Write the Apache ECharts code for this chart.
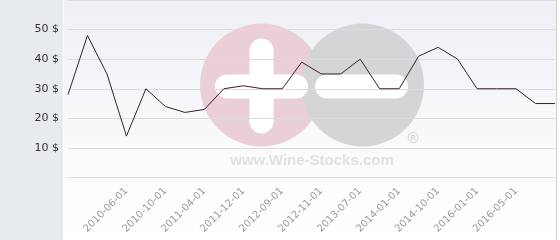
<!DOCTYPE html>
<html><head><meta charset="utf-8">
<script src="https://cdn.jsdelivr.net/npm/echarts@6/dist/echarts.min.js"></script>
<style>html,body{margin:0;padding:0;background:#fff}#c{width:560px;height:240px}</style>
</head><body><div id="c"></div>
<script>
var categories = ['', '', '', '2010-06-01', '', '2010-10-01', '', '2011-04-01', '', '2011-12-01', '', '2012-09-01', '', '2012-11-01', '', '2013-07-01', '', '2014-01-01', '', '2014-10-01', '', '2016-01-01', '', '2016-05-01', '', ''];
var prices = [28, 48, 35, 14, 30, 24, 22, 23, 30, 31, 30, 30, 39, 35, 35, 40, 30, 30, 41, 44, 40, 30, 30, 30, 25, 25];
var yTicks = [10, 20, 30, 40, 50];

var chart = echarts.init(document.getElementById('c'), null, {renderer: 'canvas'});
chart.setOption({
  animation: false,
  graphic: [
    {type: 'rect', z: -100, shape: {x: 0, y: 0, width: 63, height: 240}, style: {fill: '#e7ebee'}},
    {type: 'rect', z: -100, shape: {x: 64, y: 0, width: 492, height: 240},
      style: {fill: new echarts.graphic.LinearGradient(0, 0, 0, 1, [{offset: 0, color: '#eef0f5'}, {offset: 0.8, color: '#fdfdfe'}, {offset: 1, color: '#ffffff'}])}},
    {type: 'rect', z: -100, shape: {x: 556, y: 0, width: 1, height: 240}, style: {fill: '#cfcfcf'}},
    {type: 'circle', z: -50, shape: {cx: 261.5, cy: 85, r: 61.5}, style: {fill: '#ebcfd7'}},
    {type: 'circle', z: -49, shape: {cx: 362.5, cy: 85, r: 61.5}, style: {fill: '#d5d5d7'}},
    {type: 'rect', z: -48, shape: {x: 249.5, y: 38.5, width: 24, height: 95, r: 12}, style: {fill: '#ffffff'}},
    {type: 'rect', z: -48, shape: {x: 215, y: 74.5, width: 93, height: 24, r: 12}, style: {fill: '#ffffff'}},
    {type: 'rect', z: -48, shape: {x: 315, y: 74.5, width: 93, height: 24, r: 12}, style: {fill: '#ffffff'}},
    {type: 'text', z: -48, x: 312, y: 161, style: {text: 'www.Wine-Stocks.com', font: 'bold 15px "Liberation Sans", Arial, sans-serif', fill: '#e2e2e4', textAlign: 'center', textVerticalAlign: 'middle'}},
    {type: 'text', z: -48, x: 413, y: 139, style: {text: '®', font: 'bold 15px "Liberation Sans", Arial, sans-serif', fill: '#d8d8da', textAlign: 'center', textVerticalAlign: 'middle'}}
  ],
  grid: {left: 68, right: 5, top: -1, bottom: 62.5, containLabel: false},
  xAxis: {
    type: 'category', data: categories, boundaryGap: false,
    axisLine: {show: true, lineStyle: {color: '#dcdcdc', width: 1}},
    axisTick: {show: false},
    axisLabel: {interval: 0, rotate: 45, margin: 12, color: '#9a9a9a', fontSize: 10, fontFamily: 'DejaVu Sans'}
  },
  yAxis: {
    type: 'value', min: 0, max: 60, interval: 10,
    axisLine: {show: false}, axisTick: {show: false},
    splitLine: {lineStyle: {color: '#dcdcdc', width: 1}},
    axisLabel: {margin: 9, color: '#333', fontSize: 11, fontFamily: 'DejaVu Sans',
      formatter: function (v) { return yTicks.indexOf(v) >= 0 ? v + ' $' : ''; }}
  },
  series: [{
    type: 'line', data: prices, showSymbol: false, symbol: 'none',
    lineStyle: {color: '#3a1f2c', width: 1}
  }]
});
</script></body></html>
